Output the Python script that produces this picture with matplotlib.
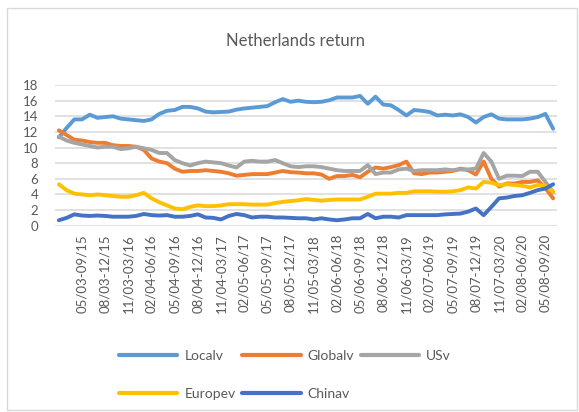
import numpy as np
import matplotlib.pyplot as plt
from matplotlib.patches import Rectangle

plt.rcParams['font.family'] = ['Lato', 'DejaVu Sans']

# etiquetas del eje x (una cada 3 meses)
tick_labels = ['05/03-09/15', '08/03-12/15', '11/03-03/16', '02/04-06/16', '05/04-09/16',
               '08/04-12/16', '11/04-03/17', '02/05-06/17', '05/05-09/17', '08/05-12/17',
               '11/05-03/18', '02/06-06/18', '05/06-09/18', '08/06-12/18', '11/06-03/19',
               '02/07-06/19', '05/07-09/19', '08/07-12/19', '11/07-03/20', '02/08-06/20',
               '05/08-09/20']
tick_pos = [3 + 3 * k for k in range(len(tick_labels))]

localv = [11.3, 12.5, 13.6, 13.6, 14.2, 13.8, 13.9, 14.0, 13.7, 13.6, 13.5, 13.4, 13.6,
          14.3, 14.7, 14.8, 15.2, 15.2, 15.0, 14.6, 14.5, 14.55, 14.6, 14.85, 15.0, 15.1,
          15.2, 15.3, 15.8, 16.2, 15.85, 16.0, 15.85, 15.8, 15.85, 16.05, 16.4, 16.4, 16.4,
          16.6, 15.6, 16.5, 15.5, 15.4, 14.8, 14.1, 14.8, 14.7, 14.55, 14.1, 14.2, 14.1,
          14.25, 13.9, 13.2, 13.9, 14.25, 13.7, 13.6, 13.6, 13.6, 13.7, 13.9, 14.3, 12.4]
globalv = [12.2, 11.6, 11.0, 10.9, 10.7, 10.6, 10.6, 10.3, 10.2, 10.2, 10.1, 9.7, 8.6,
           8.2, 8.0, 7.3, 6.9, 7.0, 7.0, 7.1, 7.0, 6.9, 6.7, 6.4, 6.5, 6.6, 6.6, 6.6, 6.8,
           7.0, 6.85, 6.8, 6.7, 6.7, 6.55, 6.0, 6.35, 6.35, 6.5, 6.2, 6.9, 7.45, 7.3, 7.5,
           7.75, 8.2, 6.7, 6.6, 6.8, 6.8, 6.9, 7.0, 7.3, 7.1, 6.55, 8.2, 6.0, 5.0, 5.4,
           5.4, 5.6, 5.6, 5.8, 4.8, 3.5]
usv = [11.4, 10.9, 10.6, 10.4, 10.2, 10.0, 10.1, 10.1, 9.8, 9.9, 10.1, 9.9, 9.7, 9.3,
       9.3, 8.4, 8.0, 7.7, 8.0, 8.2, 8.1, 8.0, 7.7, 7.45, 8.2, 8.3, 8.2, 8.2, 8.4, 8.0,
       7.6, 7.5, 7.6, 7.6, 7.5, 7.3, 7.1, 7.0, 7.0, 7.0, 7.75, 6.6, 6.8, 6.8, 7.2, 7.3,
       7.0, 7.1, 7.1, 7.1, 7.2, 7.1, 7.2, 7.2, 7.3, 9.3, 8.2, 6.0, 6.4, 6.4, 6.35, 6.9,
       6.9, 5.6, 4.3]
europev = [5.3, 4.55, 4.1, 4.0, 3.9, 4.0, 3.9, 3.8, 3.7, 3.7, 3.9, 4.2, 3.5, 3.0, 2.6,
           2.2, 2.1, 2.4, 2.6, 2.5, 2.5, 2.6, 2.75, 2.75, 2.75, 2.7, 2.7, 2.7, 2.9, 3.05,
           3.15, 3.25, 3.4, 3.3, 3.2, 3.3, 3.35, 3.35, 3.35, 3.35, 3.7, 4.1, 4.1, 4.1, 4.2,
           4.2, 4.4, 4.4, 4.4, 4.35, 4.35, 4.4, 4.55, 4.9, 4.75, 5.6, 5.5, 5.2, 5.3, 5.2,
           5.1, 4.9, 5.2, 5.1, 4.35]
chinav = [0.7, 1.0, 1.45, 1.3, 1.25, 1.3, 1.25, 1.15, 1.15, 1.15, 1.25, 1.5, 1.35, 1.3,
          1.35, 1.15, 1.15, 1.25, 1.45, 1.05, 1.0, 0.8, 1.25, 1.5, 1.35, 1.05, 1.15, 1.15,
          1.05, 1.05, 1.0, 0.95, 0.95, 0.8, 0.95, 0.8, 0.7, 0.8, 0.95, 0.95, 1.5, 0.95,
          1.15, 1.15, 1.05, 1.35, 1.35, 1.35, 1.35, 1.35, 1.45, 1.5, 1.55, 1.8, 2.2, 1.35,
          2.4, 3.5, 3.6, 3.8, 3.9, 4.2, 4.55, 4.75, 5.3]

series = [('Localv', localv, '#5B9BD5'), ('Globalv', globalv, '#ED7D31'),
          ('USv', usv, '#A5A5A5'), ('Europev', europev, '#FFC000'),
          ('Chinav', chinav, '#4472C4')]

fig = plt.figure(figsize=(5.79, 4.12), dpi=100)
fig.patches.append(Rectangle((7 / 579, 1 - 410 / 412), 570 / 579, 402 / 412,
                             transform=fig.transFigure, fill=False,
                             edgecolor='#D9D9D9', linewidth=1))
ax = fig.add_axes([55 / 579, 1 - 225.7 / 412, 502 / 579, 140.7 / 412])

x = np.arange(len(localv))
lines = {}
for name, vals, col in series:
    lines[name], = ax.plot(x, vals, color=col, linewidth=2.8, label=name,
                           solid_joinstyle='round', solid_capstyle='round')

ax.set_xlim(-0.5, len(localv) - 0.5)
ax.set_ylim(0, 18)
ax.set_yticks(np.arange(0, 19, 2))
ax.set_xticks(tick_pos)
ax.set_xticklabels(tick_labels, rotation=90)
ax.tick_params(length=0, labelsize=9.5, labelcolor='#595959', pad=6)
ax.tick_params(axis='y', pad=12)
ax.grid(axis='y', color='#D9D9D9', linewidth=1.1)
ax.set_axisbelow(True)
for s in ax.spines.values():
    s.set_visible(False)

fig.text(296 / 579, 1 - 41 / 412, 'Netherlands return', ha='center', va='center',
         fontsize=12, color='#595959')

order = ['Localv', 'Europev', 'Globalv', 'Chinav', 'USv']
leg = fig.legend([lines[n] for n in order], order, ncol=3, loc='upper left',
                 bbox_to_anchor=(119 / 579, 1 - 350 / 412), frameon=False,
                 fontsize=10, handlelength=4.2, handletextpad=0.5,
                 columnspacing=0.5, labelspacing=1.85, borderpad=0, borderaxespad=0)
for t in leg.get_texts():
    t.set_color('#595959')
for h in leg.get_lines():
    h.set_linewidth(3)
    h.set_solid_capstyle('round')

fig.savefig('out.png', dpi=100)
